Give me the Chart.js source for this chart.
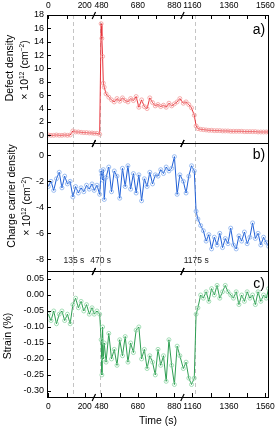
<!DOCTYPE html>
<html>
<head>
<meta charset="utf-8">
<script src="https://cdn.jsdelivr.net/npm/chart.js@4.4.0/dist/chart.umd.min.js"></script>
<style>
  html, body { margin: 0; padding: 0; background: #fff; }
  #wrap { position: relative; width: 275px; height: 431px; }
  #wrap canvas { position: absolute; left: 0; top: 0; width: 275px; height: 431px; }
</style>
</head>
<body>
<div id="wrap">
  <canvas id="chartA" width="275" height="431"></canvas>
  <canvas id="chartB" width="275" height="431"></canvas>
  <canvas id="chartC" width="275" height="431"></canvas>
</div>
<script>
// time of each measurement (s)
const times = [0, 15, 30, 45, 60, 75, 90, 105, 120, 135, 150, 165, 180, 195, 210, 225, 240,
  440, 455, 470, 478, 482, 486, 490, 495, 505, 520, 535, 550, 565, 580, 595, 610, 625, 640, 655, 670,
  685, 700, 715, 730, 745, 760, 775, 790, 805, 820, 835, 850, 865, 880, 895, 910,
  1110, 1125, 1140, 1155, 1170, 1180, 1190, 1205, 1220, 1235, 1250, 1265, 1280, 1295, 1310, 1325,
  1340, 1355, 1370, 1385, 1400, 1415, 1430, 1445, 1460, 1475, 1490, 1505, 1520, 1535, 1550, 1565, 1578];

const defectDensity = [0.05, 0.0, 0.0, 0.05, 0.0, 0.0, 0.05, 0.0, 0.05, 0.65, 0.5, 0.5, 0.45, 0.4, 0.4, 0.35, 0.35,
  0.3, 0.3, 0.15, 16.7, 14.5, 11.8, 7.8, 7.2, 6.2, 5.7, 5.3, 5.0, 5.5, 5.1, 5.6, 5.2, 5.0, 5.5, 5.2, 5.8,
  4.2, 5.3, 4.3, 4.0, 5.6, 4.9, 4.4, 4.6, 4.3, 4.5, 4.2, 4.8, 4.4, 4.7, 5.0, 5.5,
  4.8, 5.0, 4.6, 4.1, 3.0, 1.4, 1.0, 0.9, 0.85, 0.8, 0.75, 0.75, 0.7, 0.7, 0.7, 0.65,
  0.65, 0.65, 0.6, 0.6, 0.6, 0.6, 0.6, 0.55, 0.55, 0.55, 0.55, 0.55, 0.5, 0.5, 0.5, 0.5, 0.5];

const carrierDensity = [-2.4, -2.0, -2.7, -1.8, -1.3, -2.5, -1.6, -2.2, -2.0, -3.2, -2.4, -2.9, -2.5, -2.8, -2.3, -2.6, -2.2,
  -2.7, -2.3, -3.0, -1.2, -1.5, -1.9, -1.1, -3.4, -1.7, -0.9, -2.8, -1.2, -1.6, -3.3, -1.0, -2.4, -0.8, -2.6, -1.4, -2.9,
  -1.5, -3.5, -1.8, -2.4, -1.3, -2.2, -1.5, -1.6, -1.1, -1.4, -0.9, -1.2, -1.0, -0.1, -3.0, -1.5,
  -2.0, -2.9, -1.6, -0.8, -1.2, -4.3, -4.9, -5.4, -5.8, -6.6, -6.1, -7.2, -6.3, -6.9, -6.0, -7.1,
  -6.4, -6.8, -5.6, -6.9, -7.2, -6.2, -6.6, -5.9, -6.8, -6.3, -5.2, -6.4, -6.0, -6.9, -6.3, -6.7, -7.0];

const strain = [-0.06, -0.08, -0.05, -0.09, -0.06, -0.05, -0.08, -0.06, -0.09, -0.03, -0.01, -0.04, -0.02, -0.05, -0.03, -0.06, -0.04,
  -0.06, -0.05, -0.06, -0.14, -0.25, -0.10, -0.20, -0.15, -0.21, -0.12, -0.20, -0.17, -0.22, -0.14, -0.19, -0.13, -0.21, -0.15, -0.18, -0.11,
  -0.10, -0.20, -0.17, -0.23, -0.19, -0.21, -0.25, -0.17, -0.22, -0.19, -0.27, -0.14, -0.22, -0.28, -0.16, -0.19,
  -0.23, -0.21, -0.26, -0.28, -0.26, -0.06, -0.04, 0.00, -0.01, 0.01, -0.02, 0.02, 0.00, 0.03, -0.01, 0.01,
  0.03, 0.01, 0.00, -0.01, 0.01, -0.03, 0.00, -0.02, 0.01, -0.01, 0.00, -0.03, 0.01, -0.02, 0.00, -0.01, 0.02];

// axis ticks
const xTickTimes = [0, 100, 200, 480, 580, 680, 780, 880, 1160, 1260, 1360, 1460, 1560];
const xLabelTimes = [0, 200, 480, 680, 880, 1160, 1360, 1560];
const yTicksA = [0, 2, 4, 6, 8, 10, 12, 14, 16, 18];
const yTicksB = [0, -2, -4, -6, -8];
const yTicksC = [0.05, 0.0, -0.05, -0.10, -0.15, -0.20, -0.25, -0.30];

// events marked by dashed lines
const eventTimes = [135, 470, 1175];
const eventLabels = ["135 s", "470 s", "1175 s"];

// broken time axis: [0,250] | [438,924] | [1105,1580]
const BREAK1 = 250, BREAK2 = 736;
function toAxis(t) {
  if (t <= 250) return t;
  if (t <= 924) return BREAK1 + (t - 438);
  return BREAK2 + (t - 1105);
}

const FONT = '"Liberation Sans", Arial, sans-serif';
Chart.defaults.font.family = FONT;
Chart.defaults.color = "#000";

function drawRich(ctx, segs, cx, cy, size) {
  // rotated axis title with superscripts
  ctx.save();
  ctx.translate(cx, cy);
  ctx.rotate(-Math.PI / 2);
  ctx.textBaseline = "middle";
  ctx.fillStyle = "#000";
  let w = 0;
  segs.forEach(s => {
    ctx.font = (s.sup ? size * 0.62 : size) + "px " + FONT;
    s.w = ctx.measureText(s.t).width;
    w += s.w;
  });
  let x = -w / 2;
  segs.forEach(s => {
    ctx.font = (s.sup ? size * 0.62 : size) + "px " + FONT;
    ctx.fillText(s.t, x, s.sup ? -size * 0.35 : 0);
    x += s.w;
  });
  ctx.restore();
}

const panelDeco = {
  id: "panelDeco",
  beforeDatasetsDraw(chart, args, o) {
    const { ctx, chartArea: a, scales: { x } } = chart;
    ctx.save();
    ctx.strokeStyle = "#c4c4c4";
    ctx.lineWidth = 1;
    ctx.setLineDash([4, 3]);
    eventTimes.forEach(t => {
      const px = Math.round(x.getPixelForValue(toAxis(t))) + 0.5;
      ctx.beginPath();
      ctx.moveTo(px, a.top);
      ctx.lineTo(px, a.bottom);
      ctx.stroke();
    });
    ctx.restore();
  },
  afterDraw(chart, args, o) {
    const { ctx, chartArea: a, scales: { x, y } } = chart;
    ctx.save();
    ctx.strokeStyle = "#000";
    ctx.lineWidth = 1;
    ctx.strokeRect(a.left + 0.5, a.top + 0.5, a.right - a.left - 1, a.bottom - a.top);

    ctx.beginPath();
    o.yTicks.forEach(v => {
      const py = Math.round(y.getPixelForValue(v)) + 0.5;
      ctx.moveTo(a.left, py);
      ctx.lineTo(a.left + 4, py);
    });
    if (o.xTicks) {
      xTickTimes.forEach(t => {
        const px = Math.round(x.getPixelForValue(toAxis(t))) + 0.5;
        if (o.xTicks === "top") { ctx.moveTo(px, a.top); ctx.lineTo(px, a.top + 4); }
        else { ctx.moveTo(px, a.bottom); ctx.lineTo(px, a.bottom - 4); }
      });
    }
    ctx.stroke();

    // axis break marks
    ctx.lineWidth = 1.2;
    ctx.beginPath();
    [BREAK1, BREAK2].forEach(u => {
      const px = x.getPixelForValue(u);
      [a.top + 0.5, a.bottom + 0.5].forEach(py => {
        ctx.moveTo(px - 1.7, py + 3.5);
        ctx.lineTo(px + 1.7, py - 3.5);
      });
    });
    ctx.stroke();

    ctx.fillStyle = "#000";
    ctx.textAlign = "center";
    ctx.textBaseline = "middle";
    ctx.font = "14px " + FONT;
    ctx.fillText(o.letter, 259, o.letterY);

    if (o.showEvents) {
      ctx.font = "8.5px " + FONT;
      ctx.fillStyle = "#222";
      eventTimes.forEach((t, i) => {
        ctx.fillText(eventLabels[i], x.getPixelForValue(toAxis(t)) + 1, a.bottom - 10);
      });
    }
    ctx.restore();

    o.titles.forEach(tl => drawRich(ctx, tl.segs, tl.x, tl.y, 10.5));
  }
};

function xScale(position, show) {
  return {
    type: "linear",
    position: position,
    display: show,
    min: -7,
    max: 1211,
    grid: { display: false, drawTicks: false },
    border: { display: false },
    ticks: {
      color: "#000",
      font: { size: 8.5 },
      padding: position === "top" ? 4 : 5,
      maxRotation: 0,
      autoSkip: false,
      callback: (v, i) => String(xLabelTimes[i])
    },
    title: {
      display: position === "bottom",
      text: "Time (s)",
      color: "#000",
      font: { size: 10.5 },
      padding: { top: 0, bottom: 4 }
    },
    afterBuildTicks: s => { s.ticks = xLabelTimes.map(t => ({ value: toAxis(t) })); },
    afterFit: s => {
      s.height = position === "top" ? 15 : 34;
      s.paddingLeft = 0;
      s.paddingRight = 0;
    }
  };
}

function yScale(min, max, ticksArr, fmt) {
  return {
    min: min,
    max: max,
    grid: { display: false, drawTicks: false },
    border: { display: false },
    ticks: { color: "#000", font: { size: 9 }, padding: 3, autoSkip: false, callback: fmt },
    afterBuildTicks: s => { s.ticks = ticksArr.map(v => ({ value: v })); },
    afterFit: s => { s.width = 47; s.paddingTop = 0; s.paddingBottom = 0; }
  };
}

function series(values, line, marker) {
  return {
    data: times.map((t, i) => ({ x: toAxis(t), y: values[i] })),
    borderColor: line,
    borderWidth: 1,
    pointRadius: 2,
    pointBorderWidth: 0.8,
    pointBorderColor: marker,
    pointBackgroundColor: "rgba(255,255,255,0)",
    tension: 0
  };
}

function makePanel(id, ds, xPos, pad, yOpts, deco) {
  new Chart(document.getElementById(id), {
    type: "line",
    data: { datasets: [ds] },
    options: {
      responsive: false,
      animation: false,
      events: [],
      layout: { padding: pad },
      plugins: { legend: { display: false }, tooltip: { enabled: false }, panelDeco: deco },
      scales: { x: xScale(xPos, xPos !== "none"), y: yOpts }
    },
    plugins: [panelDeco]
  });
}

const supTitle = [{ t: "\u00d7 10" }, { t: "12", sup: true }, { t: " (cm" }, { t: "\u22122", sup: true }, { t: ")" }];

makePanel("chartA", series(defectDensity, "#e8333b", "#f29a9a"), "top",
  { top: 0, bottom: 288, left: 0, right: 6 },
  yScale(-1.15, 18, yTicksA, v => String(v)),
  { letter: "a)", letterY: 30, yTicks: yTicksA, xTicks: "top", showEvents: false,
    titles: [{ segs: [{ t: "Defect density" }], x: 10, y: 68 }, { segs: supTitle, x: 25.5, y: 70 }] });

makePanel("chartB", series(carrierDensity, "#1f5fd6", "#86aeee"), "none",
  { top: 143, bottom: 160, left: 0, right: 6 },
  yScale(-8.9, 0.95, yTicksB, v => String(v)),
  { letter: "b)", letterY: 155, yTicks: yTicksB, xTicks: null, showEvents: true,
    titles: [{ segs: [{ t: "Charge carrier density" }], x: 12, y: 196 }, { segs: supTitle, x: 27.5, y: 206 }] });

makePanel("chartC", series(strain, "#2e9e52", "#8fd6a6"), "bottom",
  { top: 271, bottom: 0, left: 0, right: 6 },
  yScale(-0.319, 0.075, yTicksC, v => v.toFixed(2)),
  { letter: "c)", letterY: 284, yTicks: yTicksC, xTicks: "bottom", showEvents: false,
    titles: [{ segs: [{ t: "Strain (%)" }], x: 8.5, y: 336 }] });
</script>
</body>
</html>
